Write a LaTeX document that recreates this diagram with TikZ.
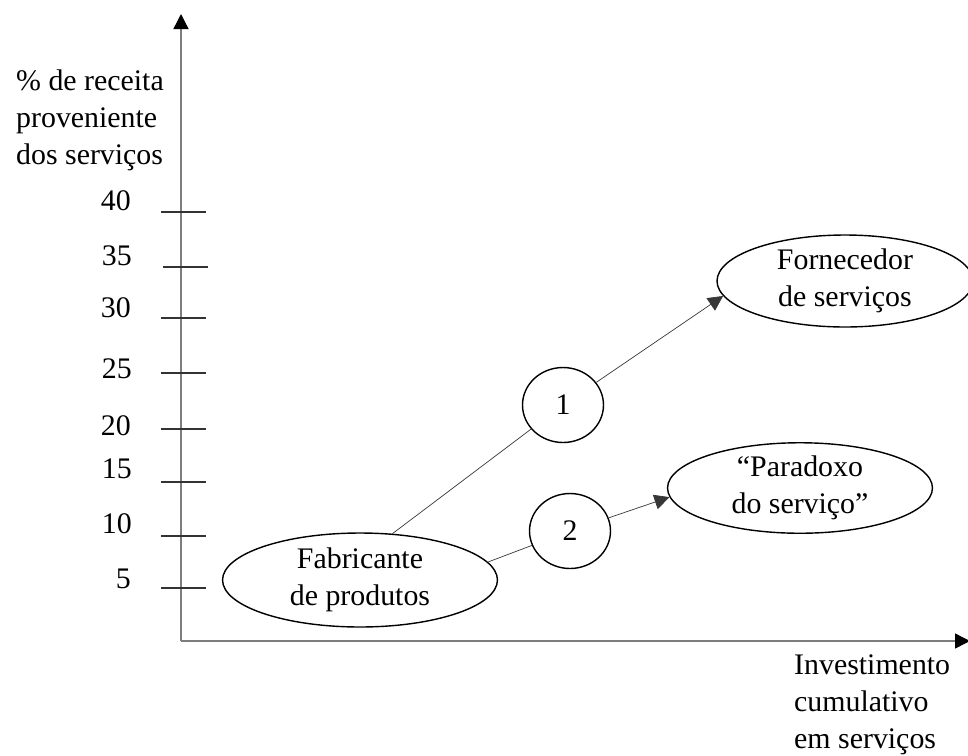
\documentclass[tikz,border=0pt]{standalone}
\usepackage{fontspec}
\setmainfont{Liberation Serif}
\usetikzlibrary{arrows.meta,positioning,shapes.geometric}
\definecolor{axgray}{RGB}{125,125,125}
\definecolor{lngray}{RGB}{55,55,55}
\begin{document}
\begin{tikzpicture}[x=0.02cm,y=-0.02cm,every node/.style={font=\fontsize{17}{21}\selectfont},
  >={Triangle[length=3mm,width=3mm]}]
\tikzstyle{oval}=[ellipse,draw,thick,inner sep=0,align=center]
\tikzstyle{num}=[ellipse,draw,thick,minimum width=1.62cm,minimum height=1.5cm,inner sep=0]
\tikzstyle{tk}=[black!80,semithick]
\tikzstyle{val}=[anchor=east]
\useasboundingbox (0,0) rectangle (968,755);
% axes
\coordinate (o) at (181,641);
\coordinate (ytop) at (181,14);
\coordinate (xend) at (970,641);
\draw[axgray,thick,-{Triangle[length=3mm,width=3mm,black]}] (o) -- (ytop);
\draw[axgray,thick,-{Triangle[length=3mm,width=3mm,black]}] (o) -- (xend);
\node[align=left,anchor=west] (ylab) at (10,120) {\% de receita\\proveniente\\dos serviços};
\node[align=left,anchor=west] (xlab) at (788,705) {Investimento\\cumulativo\\em serviços};
% ticks
\draw[tk] (161,212) -- (206,212); \node[val] (v40) at (137,201) {40};
\draw[tk] (163,267) -- (208,267); \node[val] (v35) at (138,256) {35};
\draw[tk] (161,318) -- (206,318); \node[val] (v30) at (137,308) {30};
\draw[tk] (161,373) -- (206,373); \node[val] (v25) at (138,369) {25};
\draw[tk] (161,429) -- (206,429); \node[val] (v20) at (137,426) {20};
\draw[tk] (161,482) -- (206,482); \node[val] (v15) at (138,469) {15};
\draw[tk] (161,536) -- (206,536); \node[val] (v10) at (138,524) {10};
\draw[tk] (161,588) -- (206,588); \node[val] (v5) at (137,579) {5};
% nodes
\node[oval,minimum width=5.5cm,minimum height=1.88cm] (fab) at (360,580) {Fabricante\\de produtos};
\node[oval,minimum width=5.12cm,minimum height=1.84cm] (forn) at (845,281) {Fornecedor\\de serviços};
\node[oval,minimum width=5.3cm,minimum height=1.8cm] (para) at (800,488) {“Paradoxo\\do serviço”};
\node[num] (n1) at (563,405) {1};
\node[num] (n2) at (570,531) {2};
% paths
\draw[lngray] (fab.55) -- (n1);
\draw[lngray,->] (n1) -- (forn.187);
\draw[lngray] (fab.8) -- (n2);
\draw[lngray,->] (n2) -- (para.184);
\end{tikzpicture}
\end{document}
